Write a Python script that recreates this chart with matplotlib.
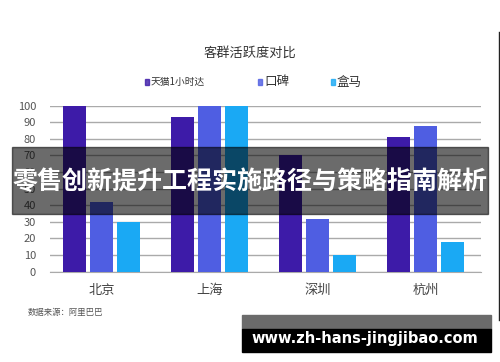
import matplotlib
matplotlib.use("Agg")
import matplotlib.pyplot as plt
import numpy as np
from matplotlib.patches import Rectangle

plt.rcParams['font.family'] = ['Noto Sans CJK SC', 'DejaVu Sans']

cities = ["北京", "上海", "深圳", "杭州"]
series_names = ["天猫1小时达", "口碑", "盒马"]
tmall = [100, 93, 70, 81]
koubei = [42, 100, 32, 88]
hema = [30, 100, 10, 18]
colors = ["#3d1ba8", "#4f5ee2", "#1aa9f4"]
yticks = [0, 10, 20, 30, 40, 50, 60, 70, 80, 90, 100]

fig = plt.figure(figsize=(5, 3.62), dpi=100, facecolor="white")
ax = fig.add_axes([0.10, 0.2495, 0.862, 0.4585])

x = np.arange(len(cities))
step = 0.25
width = 0.213
for i, vals in enumerate([tmall, koubei, hema]):
    ax.bar(x + (i - 1) * step, vals, width, color=colors[i], zorder=3, clip_on=False)

ax.set_xlim(-0.48, 3.51)
ax.set_ylim(0, 100)
ax.set_yticks(yticks)
ax.set_yticklabels([str(v) for v in yticks], fontsize=8, color="#555555")
ax.set_xticks(x)
ax.set_xticklabels(cities, fontsize=9.5, color="#444444")
ax.tick_params(axis="both", length=0)
ax.tick_params(axis="y", pad=10)
ax.tick_params(axis="x", pad=9)
ax.grid(axis="y", color="#aaaaaa", linewidth=1, zorder=0)
for s in ["top", "right", "left"]:
    ax.spines[s].set_visible(False)
ax.spines["bottom"].set_color("#aaaaaa")

# title and legend
fig.text(0.5, 1 - 53 / 362, "客群活跃度对比", ha="center", va="center", fontsize=9.5, color="#333333")
leg_x = [147, 260, 333]
leg_fs = [7, 9, 9]
for i, name in enumerate(series_names):
    fig.patches.append(Rectangle((leg_x[i] / 500 - 0.004, 1 - 85 / 362), 0.008, 6 / 362,
                                 transform=fig.transFigure, color=colors[i], alpha=0.8))
    fig.text(leg_x[i] / 500 + 0.008, 1 - 82 / 362, name, ha="left", va="center",
             fontsize=leg_fs[i], color="#333333")

fig.text(28 / 500, 1 - 313 / 362, "数据来源：阿里巴巴", ha="left", va="center", fontsize=6, color="#555555")

# right edge line
fig.add_artist(plt.Line2D([499 / 500, 499 / 500], [1 - 32 / 362, 1 - 320 / 362],
                          transform=fig.transFigure, color="#222222", linewidth=1))

# banner overlay
fig.patches.append(Rectangle((12 / 500, 1 - 214 / 362), 476 / 500, 67 / 362,
                             transform=fig.transFigure, color="black", alpha=0.58, zorder=10))
fig.text(0.5, 1 - 182 / 362, "零售创新提升工程实施路径与策略指南解析", ha="center", va="center",
         fontsize=18, color="white", fontweight="bold", zorder=11)

# watermark box
fig.patches.append(Rectangle((242 / 500, 1 - 329 / 362), 249 / 500, 14 / 362,
                             transform=fig.transFigure, color="#6b6b6b", zorder=10))
fig.patches.append(Rectangle((242 / 500, 1 - 352 / 362), 249 / 500, 23 / 362,
                             transform=fig.transFigure, color="black", zorder=10))
fig.text(365 / 500, 1 - 339 / 362, "www.zh-hans-jingjibao.com", ha="center", va="center",
         fontsize=10.5, color="white", fontweight="bold", family=["DejaVu Sans"], zorder=11)

fig.savefig("out.png", dpi=100)
